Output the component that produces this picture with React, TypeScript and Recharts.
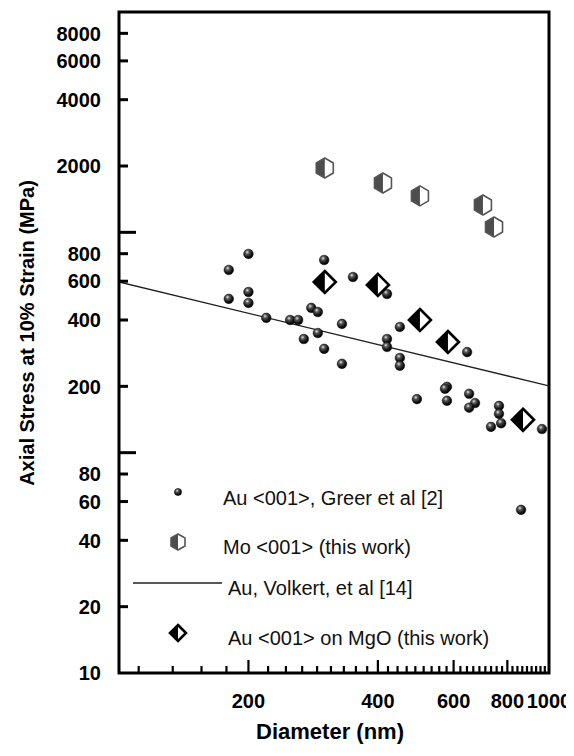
import React from 'react';
import { ScatterChart, Scatter, XAxis, YAxis, ReferenceArea, Legend } from 'recharts';

const FONT = "Arial, 'Liberation Sans', Helvetica, sans-serif";

// Au <001>, Greer et al [2]
const greerDiameter = [180, 200, 300, 200, 180, 200, 220, 250, 261, 280, 290, 330, 290, 269, 300, 330, 350, 420, 450, 420, 420, 645, 450, 450, 579, 573, 493, 579, 652, 673, 652, 765, 765, 774, 733, 963, 861];
const greerStress = [675, 798, 749, 536, 499, 478, 409, 400, 400, 454, 435, 384, 349, 328, 296, 253, 627, 525, 372, 328, 302, 286, 269, 248, 199, 195, 175, 172, 185, 168, 160, 163, 150, 136, 131, 128, 55];

// Mo <001> (this work)
const moDiameter = [301, 411, 501, 702, 745];
const moStress = [1960, 1675, 1463, 1331, 1058];

// Au <001> on MgO (this work)
const mgoDiameter = [301, 400, 501, 582, 870];
const mgoStress = [595, 577, 400, 318, 141];

// Au, Volkert, et al [14] (power-law fit line end points)
const volkertDiameter = [100, 1000];
const volkertStress = [595, 201];

const seriesNames = [
  'Au <001>, Greer et al [2]',
  'Mo <001> (this work)',
  'Au, Volkert, et al [14]',
  'Au <001> on MgO (this work)',
];

const xLabels = [200, 400, 600, 800, 1000];
const xMinorTicks = Array.from({ length: 41 }, (_, i) => (200 * (i + 5)) / 9);
const yTicks = [10, 20, 40, 60, 80, 100, 200, 400, 600, 800, 1000, 2000, 4000, 6000, 8000];
const yLabels = [10, 20, 40, 60, 80, 200, 400, 600, 800, 2000, 4000, 6000, 8000];
const yMajor = [100, 1000];

const zip = (a: number[], b: number[]) => a.map((d, i) => ({ d, s: b[i] }));
const greer = zip(greerDiameter, greerStress);
const mo = zip(moDiameter, moStress);
const mgo = zip(mgoDiameter, mgoStress);
const volkert = zip(volkertDiameter, volkertStress);

const SphereIcon = ({ cx, cy, r }: { cx: number; cy: number; r: number }) => (
  <g>
    <defs>
      <radialGradient id="sphereGrad" cx="38%" cy="32%" r="70%">
        <stop offset="0%" stopColor="#e8e8e8" />
        <stop offset="28%" stopColor="#5a5a5a" />
        <stop offset="70%" stopColor="#141414" />
        <stop offset="100%" stopColor="#000" />
      </radialGradient>
    </defs>
    <circle cx={cx} cy={cy} r={r} fill="url(#sphereGrad)" stroke="#000" strokeWidth={0.5} />
  </g>
);

const HexIcon = ({ cx, cy, w, h }: { cx: number; cy: number; w: number; h: number }) => {
  const hw = w / 2;
  const hh = h / 2;
  const q = h / 4;
  const full = `${cx},${cy - hh} ${cx + hw},${cy - q} ${cx + hw},${cy + q} ${cx},${cy + hh} ${cx - hw},${cy + q} ${cx - hw},${cy - q}`;
  const left = `${cx},${cy - hh} ${cx},${cy + hh} ${cx - hw},${cy + q} ${cx - hw},${cy - q}`;
  return (
    <g>
      <polygon points={full} fill="#fff" />
      <polygon points={left} fill="#4d4d4d" />
      <polygon points={full} fill="none" stroke="#555" strokeWidth={1.6} strokeLinejoin="round" />
    </g>
  );
};

const DiamondIcon = ({ cx, cy, s }: { cx: number; cy: number; s: number }) => {
  const full = `${cx},${cy - s} ${cx + s},${cy} ${cx},${cy + s} ${cx - s},${cy}`;
  const left = `${cx},${cy - s} ${cx},${cy + s} ${cx - s},${cy}`;
  return (
    <g>
      <polygon points={full} fill="#fff" />
      <polygon points={left} fill="#000" />
      <polygon points={full} fill="none" stroke="#000" strokeWidth={2.6} strokeLinejoin="miter" />
    </g>
  );
};

const SphereShape = (p: any) => <SphereIcon cx={p.cx} cy={p.cy} r={4.8} />;
const HexShape = (p: any) => <HexIcon cx={p.cx} cy={p.cy} w={17} h={20} />;
const DiamondShape = (p: any) => <DiamondIcon cx={p.cx} cy={p.cy} s={11} />;
const NoShape = () => <g />;

const XTick = (props: any) => {
  const { x, y, payload } = props;
  const v = Math.round(payload.value);
  const major = xLabels.includes(v);
  return (
    <g>
      {v > 100 && v < 1000 && (
        <path d={`M${x},${y - 1} L${x},${y - (major ? 13 : 7)}`} stroke="#000" strokeWidth={2.2} fill="none" />
      )}
      {major && (
        <text x={x} y={y + 35} textAnchor="middle" fontFamily={FONT} fontWeight={700} fontSize={20} fill="#000">
          {v}
        </text>
      )}
    </g>
  );
};

const YTick = (props: any) => {
  const { x, y, payload } = props;
  const v = Math.round(payload.value);
  const major = yMajor.includes(v);
  const label = yLabels.includes(v);
  return (
    <g>
      {v > 10 && (
        <line x1={x} x2={x + (major ? 17 : 9)} y1={y} y2={y} stroke="#000" strokeWidth={3} />
      )}
      {label && (
        <text x={x - 18} y={y} dy="0.36em" textAnchor="end" fontFamily={FONT} fontWeight={700} fontSize={20} fill="#000">
          {v}
        </text>
      )}
    </g>
  );
};

const XTitle = () => (
  <text x={330} y={739} textAnchor="middle" fontFamily={FONT} fontWeight={700} fontSize={22} fill="#000">
    Diameter (nm)
  </text>
);

const YTitle = () => (
  <text
    transform="translate(27,333) rotate(-90)"
    textAnchor="middle"
    dominantBaseline="central"
    fontFamily={FONT}
    fontWeight={700}
    fontSize={20}
    fill="#000"
  >
    Axial Stress at 10% Strain (MPa)
  </text>
);

const textStyle = (left: number, cy: number): React.CSSProperties => ({
  position: 'absolute',
  left,
  top: cy - 12,
  lineHeight: '24px',
  whiteSpace: 'nowrap',
  fontFamily: FONT,
  fontSize: 20,
  color: '#111',
});

const LegendContent = () => (
  <div style={{ position: 'relative', width: 340, height: 190 }}>
    <svg style={{ position: 'absolute', left: 0, top: 0 }} width={100} height={190}>
      <SphereIcon cx={48} cy={22} r={3.6} />
      <HexIcon cx={48} cy={72} w={14} h={16} />
      <line x1={3} x2={92} y1={113} y2={113} stroke="#222" strokeWidth={1.4} />
      <DiamondIcon cx={48} cy={163} s={8} />
    </svg>
    <div style={textStyle(93, 28)}>{seriesNames[0]}</div>
    <div style={textStyle(93, 77)}>{seriesNames[1]}</div>
    <div style={textStyle(98, 118)}>{seriesNames[2]}</div>
    <div style={textStyle(98, 168)}>{seriesNames[3]}</div>
  </div>
);

export default function App() {
  return (
    <div style={{ marginLeft: -8, marginTop: -8, marginBottom: -8, width: 574, height: 756, background: '#fff' }}>
      <ScatterChart width={574} height={756} margin={{ top: 12, right: 25, bottom: 53, left: 59 }}>
        <ReferenceArea
          x1={100}
          x2={1000}
          y1={10}
          y2={10000}
          fill="none"
          fillOpacity={0}
          stroke="#000"
          strokeWidth={3}
          ifOverflow="visible"
        />
        <XAxis
          type="number"
          dataKey="d"
          scale="log"
          domain={[100, 1000]}
          allowDataOverflow
          ticks={xMinorTicks}
          interval={0}
          tick={<XTick />}
          tickLine={false}
          axisLine={false}
          tickSize={0}
          tickMargin={0}
          height={30}
          label={XTitle}
        />
        <YAxis
          type="number"
          dataKey="s"
          scale="log"
          domain={[10, 10000]}
          allowDataOverflow
          ticks={yTicks}
          interval={0}
          tick={<YTick />}
          tickLine={false}
          axisLine={false}
          tickSize={0}
          tickMargin={0}
          width={60}
          label={YTitle}
        />
        <Scatter
          name={seriesNames[2]}
          data={volkert}
          line={{ stroke: '#222', strokeWidth: 1.4 }}
          shape={NoShape}
          isAnimationActive={false}
        />
        <Scatter name={seriesNames[0]} data={greer} shape={SphereShape} isAnimationActive={false} />
        <Scatter name={seriesNames[1]} data={mo} shape={HexShape} isAnimationActive={false} />
        <Scatter name={seriesNames[3]} data={mgo} shape={DiamondShape} isAnimationActive={false} />
        <Legend
          layout="horizontal"
          verticalAlign="middle"
          align="center"
          content={LegendContent}
          wrapperStyle={{ position: 'absolute', left: 130, top: 470, width: 340, height: 190 }}
        />
      </ScatterChart>
    </div>
  );
}
